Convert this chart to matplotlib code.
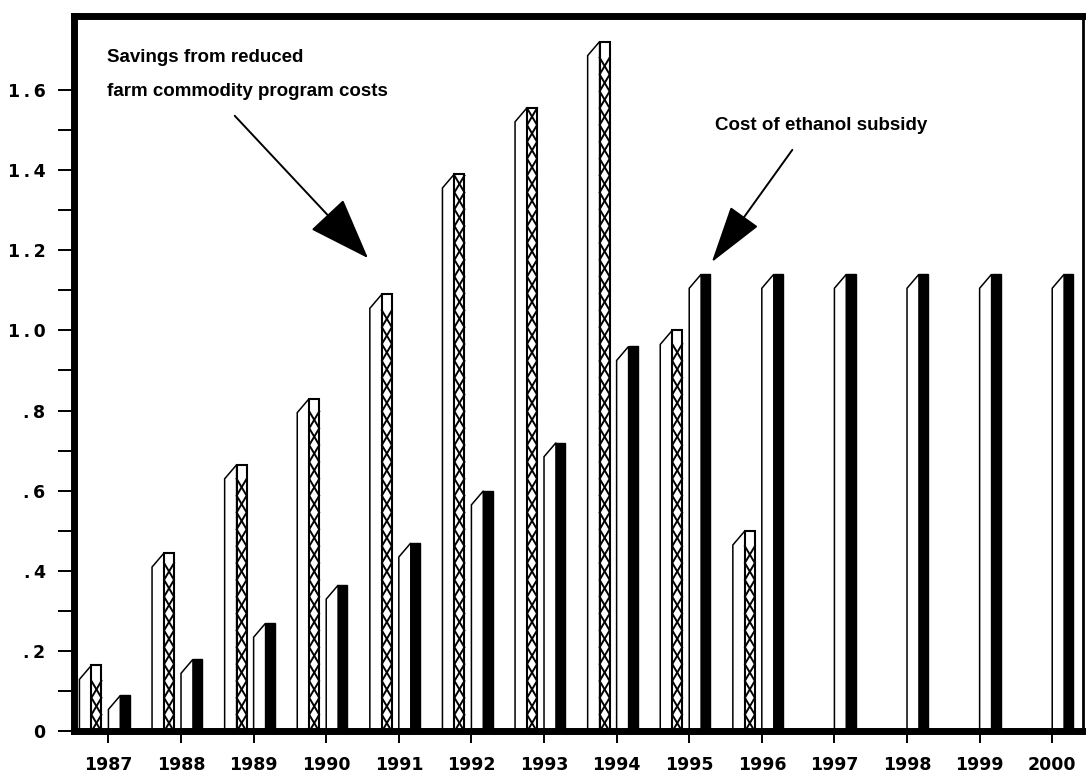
import matplotlib
matplotlib.use("Agg")
import matplotlib.pyplot as plt
from matplotlib.font_manager import FontProperties
import numpy as np

# Annual values, billions of dollars
years = ["1987", "1988", "1989", "1990", "1991", "1992", "1993",
         "1994", "1995", "1996", "1997", "1998", "1999", "2000"]
savings = [0.165, 0.445, 0.665, 0.83, 1.09, 1.39, 1.555, 1.72, 1.00, 0.50]
subsidy = [0.09, 0.18, 0.27, 0.365, 0.47, 0.60, 0.72, 0.96,
           1.14, 1.14, 1.14, 1.14, 1.14, 1.14]

ytick_vals = [0, 0.2, 0.4, 0.6, 0.8, 1.0, 1.2, 1.4, 1.6]
ytick_text = ["0", ".2", ".4", ".6", ".8", "1.0", "1.2", "1.4", "1.6"]
yminor_vals = [0.1, 0.3, 0.5, 0.7, 0.9, 1.1, 1.3, 1.5]

note_savings = ["Savings from reduced", "farm commodity program costs"]
note_subsidy = "Cost of ethanol subsidy"

# bar geometry (in units of one year slot)
FRONT_W = 0.165
SIDE_W = 0.138
GAP = 0.096
DEPTH = 0.035
ZIG = 0.042      # half period of the lattice texture on the savings bars

fig = plt.figure(figsize=(10.86, 7.74), dpi=100)
ax = fig.add_axes([0.06814, 0.05491, 0.92910, 0.92506])

pos = np.arange(len(years))
sav_pos = pos[:len(savings)]


def faces(x_left, values):
    # white front face with slanted top edge, one per bar
    for x0, v in zip(x_left, values):
        ax.fill([x0, x0, x0 + FRONT_W, x0 + FRONT_W],
                [0, v - DEPTH, v, 0],
                facecolor="white", edgecolor="black", lw=1.1, zorder=2)


def lattice(x_left, values, width):
    # crossing zig-zag texture inside each side strip
    for x0, v in zip(x_left, values):
        ys = np.arange(0, v + 1e-9, ZIG)
        alt = np.arange(len(ys)) % 2
        xa = np.where(alt == 0, x0, x0 + width)
        xb = np.where(alt == 0, x0 + width, x0)
        ax.plot(xa, ys, color="black", lw=1.4, zorder=2.2,
                solid_joinstyle="miter")
        ax.plot(xb, ys, color="black", lw=1.4, zorder=2.2,
                solid_joinstyle="miter")


# savings bars: front face + cross-hatched side
sav_front = sav_pos - GAP - SIDE_W - FRONT_W
faces(sav_front, savings)
ax.bar(sav_pos - GAP - SIDE_W, savings, width=SIDE_W, align="edge",
       facecolor="white", edgecolor="black", lw=1.5, zorder=2.1)
lattice(sav_pos - GAP - SIDE_W, savings, SIDE_W)

# subsidy bars: front face + solid black side
faces(pos, subsidy)
ax.bar(pos + FRONT_W, subsidy, width=SIDE_W - 0.01, align="edge",
       facecolor="black", edgecolor="black", lw=1.0, zorder=2)

ax.set_xlim(-0.474, 13.424)
ax.set_ylim(0, 1.785)

ax.set_xticks(pos)
ax.set_xticklabels(years)
ax.set_yticks(ytick_vals)
ax.set_yticklabels([t.replace(".", "\u2009.\u2009") if t[0] != "." else
                    t.replace(".", ".\u2009") for t in ytick_text])
ax.set_yticks(yminor_vals, minor=True)

lab_font = FontProperties(family="DejaVu Sans", weight="bold", size=12.5)
for lab in ax.get_xticklabels() + ax.get_yticklabels():
    lab.set_fontproperties(lab_font)

ax.tick_params(axis="x", which="major", direction="out", length=8.5,
               width=1.4, pad=9)
ax.tick_params(axis="y", which="both", direction="out", length=11.5,
               width=1.4, pad=9)

for side in ("left", "bottom", "top"):
    ax.spines[side].set_linewidth(5)
ax.spines["right"].set_linewidth(2)
for sp in ax.spines.values():
    sp.set_zorder(3)

txt_font = dict(family="Liberation Sans", weight="bold", size=13.5)
ax.text(-0.02, 1.67, note_savings[0], ha="left", va="baseline", **txt_font)
ax.text(-0.02, 1.585, note_savings[1], ha="left", va="baseline", **txt_font)
ax.text(8.355, 1.50, note_subsidy, ha="left", va="baseline", **txt_font)

ax.annotate("", xy=(3.576, 1.18), xytext=(1.74, 1.535),
            arrowprops=dict(arrowstyle="-|>,head_length=4.0,head_width=1.45",
                            mutation_scale=10, lw=1.4, color="black",
                            shrinkA=0, shrinkB=0))
ax.annotate("", xy=(8.31, 1.17), xytext=(9.42, 1.45),
            arrowprops=dict(arrowstyle="-|>,head_length=3.7,head_width=1.1",
                            mutation_scale=10, lw=1.4, color="black",
                            shrinkA=0, shrinkB=0))

fig.savefig("out.png", dpi=100, facecolor="white")
